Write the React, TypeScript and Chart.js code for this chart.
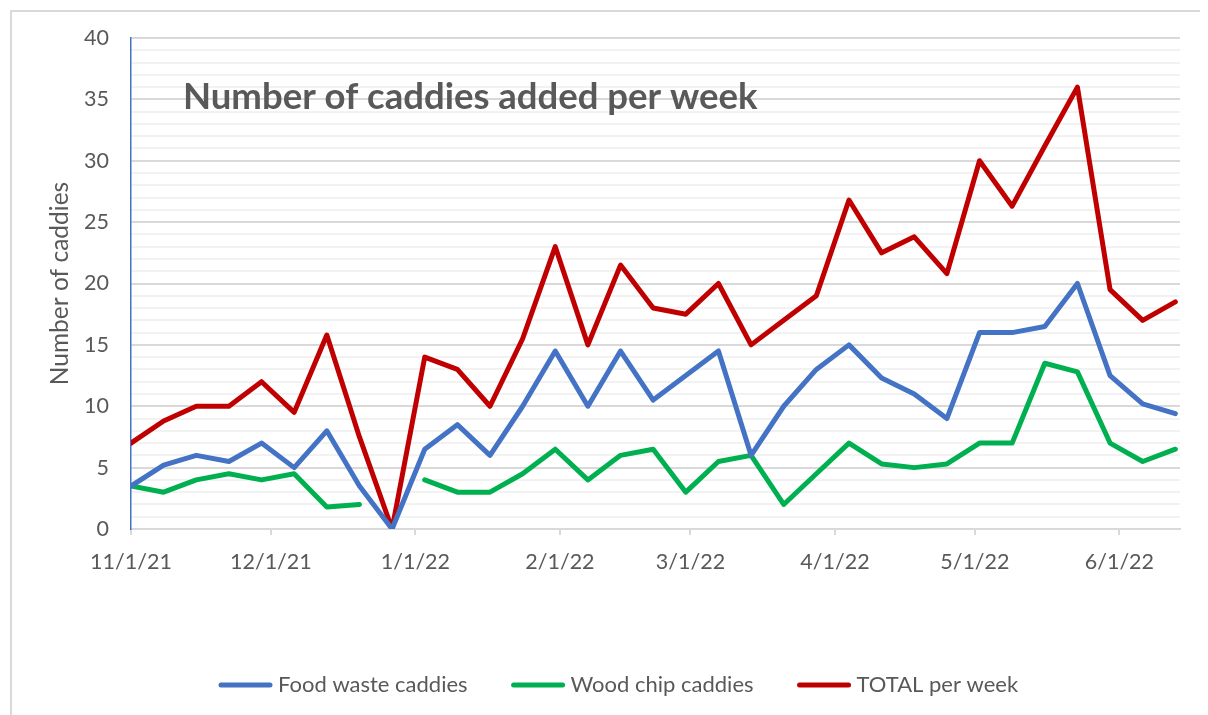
import React, { useEffect, useRef } from "react";
import { Chart, registerables } from "chart.js";
Chart.register(...registerables);

const weekDates = [
  "2021-11-01", "2021-11-08", "2021-11-15", "2021-11-22", "2021-11-29",
  "2021-12-06", "2021-12-13", "2021-12-20", "2021-12-27", "2022-01-03",
  "2022-01-10", "2022-01-17", "2022-01-24", "2022-01-31", "2022-02-07",
  "2022-02-14", "2022-02-21", "2022-02-28", "2022-03-07", "2022-03-14",
  "2022-03-21", "2022-03-28", "2022-04-04", "2022-04-11", "2022-04-18",
  "2022-04-25", "2022-05-02", "2022-05-09", "2022-05-16", "2022-05-23",
  "2022-05-30", "2022-06-06", "2022-06-13",
];
const foodWaste = [
  3.5, 5.2, 6, 5.5, 7, 5, 8, 3.5, 0, 6.5,
  8.5, 6, 10, 14.5, 10, 14.5, 10.5, 12.5, 14.5, 6,
  10, 13, 15, 12.3, 11, 9, 16, 16, 16.5, 20,
  12.5, 10.2, 9.4,
];
const woodChip: (number | null)[] = [
  3.5, 3, 4, 4.5, 4, 4.5, 1.8, 2, null, 4,
  3, 3, 4.5, 6.5, 4, 6, 6.5, 3, 5.5, 6,
  2, 4.5, 7, 5.3, 5, 5.3, 7, 7, 13.5, 12.8,
  7, 5.5, 6.5,
];
const totalPerWeek = [
  7, 8.8, 10, 10, 12, 9.5, 15.8, 7.5, 0, 14,
  13, 10, 15.5, 23, 15, 21.5, 18, 17.5, 20, 15,
  17, 19, 26.8, 22.5, 23.8, 20.8, 30, 26.3, 31.2, 36,
  19.5, 17, 18.5,
];
const tickDates = [
  "2021-11-01", "2021-12-01", "2022-01-01", "2022-02-01",
  "2022-03-01", "2022-04-01", "2022-05-01", "2022-06-01",
];
const tickLabels = ["11/1/21", "12/1/21", "1/1/22", "2/1/22", "3/1/22", "4/1/22", "5/1/22", "6/1/22"];
const seriesNames = ["Food waste caddies", "Wood chip caddies", "TOTAL per week"];
const seriesColors = ["#4472C4", "#00B050", "#C00000"];
const chartTitle = "Number of caddies added per week";
const yAxisTitle = "Number of caddies";

const DAY = 86400000;
const origin = Date.parse(weekDates[0] + "T00:00:00Z");
const dayOf = (s: string) => Math.round((Date.parse(s + "T00:00:00Z") - origin) / DAY);
const tickDays = tickDates.map(dayOf);
const toPoints = (vals: (number | null)[]) => vals.map((v, i) => ({ x: dayOf(weekDates[i]), y: v }));

const FONT = "Lato, 'Open Sans', sans-serif";
const TEXT = "#595959";

const decorPlugin = {
  id: "decor",
  beforeDraw(chart: any) {
    const ctx = chart.ctx;
    ctx.save();
    ctx.strokeStyle = "#d9d9d9";
    ctx.lineWidth = 2;
    ctx.beginPath();
    ctx.moveTo(3, chart.height);
    ctx.lineTo(3, 3);
    ctx.lineTo(chart.width, 3);
    ctx.stroke();
    ctx.restore();
  },
  afterDraw(chart: any) {
    const ctx = chart.ctx;
    const area = chart.chartArea;
    ctx.save();
    // title
    ctx.fillStyle = TEXT;
    ctx.font = `bold 36.5px ${FONT}`;
    ctx.textAlign = "left";
    ctx.textBaseline = "alphabetic";
    ctx.fillText(chartTitle, 175, 101);
    // y axis title
    ctx.save();
    ctx.translate(52, (area.top + area.bottom) / 2);
    ctx.rotate(-Math.PI / 2);
    ctx.font = `24.5px ${FONT}`;
    ctx.textAlign = "center";
    ctx.textBaseline = "middle";
    ctx.fillText(yAxisTitle, 0, 0);
    ctx.restore();
    // legend
    ctx.font = `22px ${FONT}`;
    ctx.textBaseline = "middle";
    ctx.textAlign = "left";
    let x = 213;
    const y = 677;
    chart.data.datasets.forEach((ds: any) => {
      ctx.strokeStyle = ds.borderColor;
      ctx.lineWidth = 5;
      ctx.lineCap = "round";
      ctx.beginPath();
      ctx.moveTo(x, y);
      ctx.lineTo(x + 49, y);
      ctx.stroke();
      x += 57;
      ctx.fillStyle = TEXT;
      ctx.fillText(ds.label, x, y);
      x += ctx.measureText(ds.label).width + 46;
    });
    ctx.restore();
  },
};

export default function App() {
  const ref = useRef<HTMLCanvasElement | null>(null);
  useEffect(() => {
    if (!ref.current) return;
    const values = [foodWaste, woodChip, totalPerWeek];
    const chart = new Chart(ref.current, {
      type: "line",
      data: {
        datasets: values.map((vals, i) => ({
          label: seriesNames[i],
          data: toPoints(vals),
          borderColor: seriesColors[i],
          backgroundColor: seriesColors[i],
          borderWidth: 5,
          pointRadius: 0,
          tension: 0,
          spanGaps: false,
          borderCapStyle: "round",
          borderJoinStyle: "round",
        })),
      },
      options: {
        animation: false,
        responsive: false,
        devicePixelRatio: 1,
        layout: { padding: { top: 30, right: 28, left: 0, bottom: 126 } },
        plugins: { legend: { display: false }, tooltip: { enabled: false } },
        scales: {
          x: {
            type: "linear",
            min: 0,
            max: 225,
            afterBuildTicks: (scale: any) => {
              scale.ticks = tickDays.map((v) => ({ value: v }));
            },
            afterFit: (scale: any) => {
              scale.height = 60;
              scale.paddingLeft = 0;
              scale.paddingRight = 0;
            },
            grid: {
              drawOnChartArea: false,
              drawTicks: true,
              tickLength: 6,
              color: "#d9d9d9",
              lineWidth: 2,
            },
            border: { color: "#d9d9d9", width: 2 },
            ticks: {
              autoSkip: false,
              maxRotation: 0,
              padding: 14,
              color: TEXT,
              font: { family: FONT, size: 21.5 },
              callback: (v: any) => {
                const i = tickDays.indexOf(Number(v));
                return i >= 0 ? tickLabels[i] : "";
              },
            },
          },
          y: {
            min: 0,
            max: 40,
            afterFit: (scale: any) => {
              scale.width = 123;
              scale.paddingTop = 0;
              scale.paddingBottom = 0;
            },
            grid: {
              drawTicks: false,
              color: (c: any) => (c.tick && c.tick.value % 5 === 0 ? "#d9d9d9" : "#f2f2f2"),
              lineWidth: 2,
            },
            border: { color: "#4472C4", width: 1.5 },
            ticks: {
              stepSize: 1,
              autoSkip: false,
              padding: 22,
              color: TEXT,
              font: { family: FONT, size: 21.5 },
              callback: (v: any) => (Number(v) % 5 === 0 ? String(v) : ""),
            },
          },
        },
      },
      plugins: [decorPlugin],
    } as any);
    return () => chart.destroy();
  }, []);
  return (
    <div style={{ width: 1200, height: 707 }}>
      <canvas ref={ref} width={1200} height={707} style={{ display: "block", width: 1200, height: 707 }} />
    </div>
  );
}
